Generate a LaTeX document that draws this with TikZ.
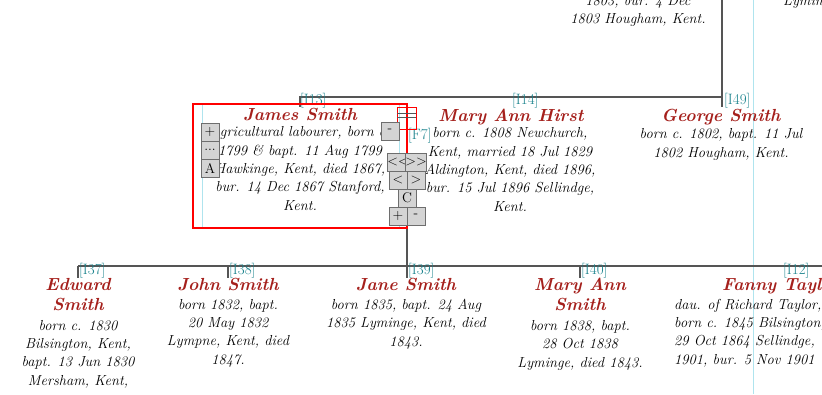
\documentclass[tikz,border=0pt]{standalone}
\usepackage{fontspec}
\usetikzlibrary{positioning}
\definecolor{namered}{RGB}{165,32,28}
\definecolor{idteal}{RGB}{25,130,140}
\definecolor{treeline}{RGB}{85,85,85}
\definecolor{btnfill}{RGB}{212,212,212}
\definecolor{btnedge}{RGB}{110,110,110}
\definecolor{guide}{RGB}{175,228,238}
\tikzset{
  pname/.style={anchor=base, align=center, inner sep=0, text=namered,
    font=\fontsize{17.5}{20}\selectfont\bfseries\itshape},
  pinfo/.style={anchor=base, align=center, inner sep=0,
    font=\fontsize{14.5}{18.3}\selectfont\itshape},
  pid/.style={anchor=base west, inner sep=0, text=idteal,
    font=\fontsize{15}{15}\selectfont},
  btn/.style={draw=btnedge, fill=btnfill, minimum width=18, minimum height=18,
    inner sep=0, font=\fontsize{14}{14}\selectfont},
  tree/.style={draw=treeline, line width=1.4}
}
\begin{document}
\begin{tikzpicture}[x=1pt,y=-1pt]
\useasboundingbox (0,0) rectangle (822,394);
\clip (0,0) rectangle (822,394);

\draw[guide] (753,0) -- (753,394);
\draw[guide] (202,104) -- (202,228);
\draw[guide] (399,104) -- (399,228);

\coordinate (ptop) at (722,0);
\coordinate (pcorner) at (722,97);
\coordinate (husb) at (300,97);
\coordinate (husbtick) at (300,107);
\coordinate (sibtick) at (722,107);
\coordinate (fam) at (407,117);
\coordinate (kidsleft) at (78,266);
\coordinate (kidsright) at (822,266);
\coordinate (kidmid) at (407,266);
\draw[tree] (ptop) -- (pcorner) -- (husb) -- (husbtick);
\draw[tree] (pcorner) -- (sibtick);
\draw[tree] (fam) -- (kidmid);
\draw[tree] (kidsleft) -- (kidsright);
\foreach \kx in {78,228,407,580}
  \draw[tree] (\kx,266) -- (\kx,278);

\node[pinfo] (grand) at (638,23.5) {1803, bur. 4 Dec\\1803 Hougham, Kent.};
\node[pinfo, anchor=base west] (grandr) at (783,5) {Lyminge, Kent.};

\node[pid] (id13) at (300,104) {[I13]};
\node[pid] (id14) at (512,104) {[I14]};
\node[pid] (id49) at (724,104) {[I49]};
\node[pid] (f7) at (408,139) {[F7]};

\node[pname] (james) at (300,120) {James Smith};
\node[pinfo] (jamesinfo) at (300,210) {Agricultural labourer, born c.\\1799 \& bapt. 11 Aug 1799\\Hawkinge, Kent, died 1867,\\bur. 14 Dec 1867 Stanford,\\Kent.};
\node[pname] (mary) at (511,121) {Mary Ann Hirst};
\node[pinfo] (maryinfo) at (510,211) {born c. 1808 Newchurch,\\Kent, married 18 Jul 1829\\Aldington, Kent, died 1896,\\bur. 15 Jul 1896 Sellindge,\\Kent.};
\node[pname] (george) at (721,121) {George Smith};
\node[pinfo] (georgeinfo) at (721,157) {born c. 1802, bapt. 11 Jul\\1802 Hougham, Kent.};

\node[pid] (id37) at (79,274) {[I37]};
\node[pid] (id38) at (229,274) {[I38]};
\node[pid] (id39) at (408,274) {[I39]};
\node[pid] (id40) at (581,274) {[I40]};
\node[pid] (id12) at (783,274) {[I12]};

\node[pname] (edward) at (78,310) {Edward\\Smith};
\node[pinfo] (edwardinfo) at (78,385) {born c. 1830\\Bilsington, Kent,\\bapt. 13 Jun 1830\\Mersham, Kent,};
\node[pname] (john) at (228,290) {John Smith};
\node[pinfo] (johninfo) at (228,364) {born 1832, bapt.\\20 May 1832\\Lympne, Kent, died\\1847.};
\node[pname] (jane) at (406,290) {Jane Smith};
\node[pinfo] (janeinfo) at (406,346) {born 1835, bapt. 24 Aug\\1835 Lyminge, Kent, died\\1843.};
\node[pname] (maryann) at (580,310) {Mary Ann\\Smith};
\node[pinfo] (maryanninfo) at (580,367) {born 1838, bapt.\\28 Oct 1838\\Lyminge, died 1843.};
\node[pname, anchor=base west] (fanny) at (722,290) {Fanny Taylor};
\node[pinfo, anchor=base west, align=left] (fannyinfo) at (674,364) {dau. of Richard Taylor,\\born c. 1845 Bilsington,\\29 Oct 1864 Sellindge,\\1901, bur. 5 Nov 1901};

\draw[red, line width=1.3] (193,104) rectangle (407,228);
\draw[red, line width=1] (397,107) rectangle (416,129);
\draw[treeline] (397,113) -- (416,113) (397,117) -- (416,117);

\node[btn] (bplus) at (210,132) {+};
\node[btn] (bmore) at (210,150) {...};
\node[btn] (ba) at (210,168) {A};
\node[btn] (bminus) at (390,131) {-};
\node[btn] (bfirst) at (398,162) {{<}{<}};
\node[btn] (blast) at (416,162) {{>}{>}};
\node[btn] (bprev) at (398,180) {<};
\node[btn] (bnext) at (416,180) {>};
\node[btn] (bc) at (407,198) {C};
\node[btn] (bzin) at (398,216) {+};
\node[btn] (bzout) at (416,216) {-};
\end{tikzpicture}
\end{document}
